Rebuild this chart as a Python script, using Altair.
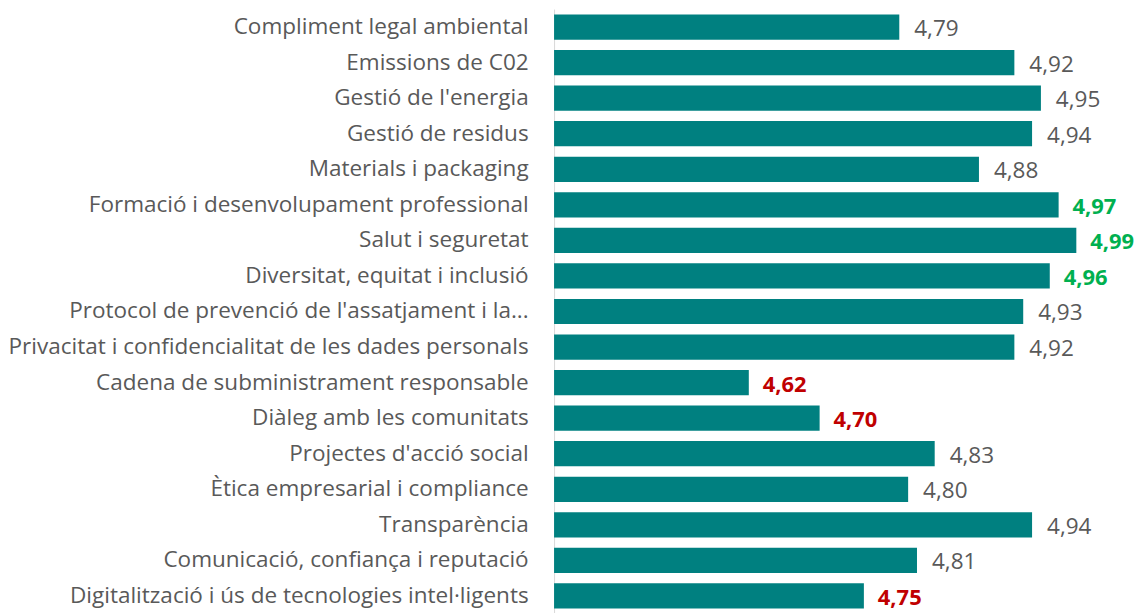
import altair as alt
import pandas as pd

categories = [
    "Compliment legal ambiental",
    "Emissions de C02\u00a0",
    "Gestió de l'energia",
    "Gestió de residus",
    "Materials i packaging",
    "Formació i desenvolupament professional",
    "Salut i seguretat",
    "Diversitat, equitat i inclusió",
    "Protocol de prevenció de l'assatjament i la...",
    "Privacitat i confidencialitat de les dades personals",
    "Cadena de subministrament responsable",
    "Diàleg amb les comunitats",
    "Projectes d'acció social",
    "Ètica empresarial i compliance",
    "Transparència",
    "Comunicació, confiança i reputació",
    "Digitalització i ús de tecnologies intel·ligents",
]
values = [4.79, 4.92, 4.95, 4.94, 4.88, 4.97, 4.99, 4.96, 4.93, 4.92,
          4.62, 4.70, 4.83, 4.80, 4.94, 4.81, 4.75]

df = pd.DataFrame({"cat": categories, "val": values})
df["label"] = df["val"].map(lambda v: f"{v:.2f}".replace(".", ","))
ranks_desc = df["val"].rank(method="first", ascending=False)
ranks_asc = df["val"].rank(method="first", ascending=True)
df["grp"] = "normal"
df.loc[ranks_desc <= 3, "grp"] = "top"
df.loc[ranks_asc <= 3, "grp"] = "bottom"

FONT = "Open Sans"

y_enc = alt.Y(
    "cat:N",
    sort=categories,
    title=None,
    scale=alt.Scale(paddingInner=0.29, paddingOuter=0.15),
    axis=alt.Axis(
        labelFont=FONT,
        labelFontSize=22.6,
        labelColor="#595959",
        labelPadding=26,
        labelLimit=0,
        ticks=False,
        domainColor="#d9d9d9",
        domainWidth=1,
        grid=False,
    ),
)

x_enc = alt.X(
    "val:Q",
    title=None,
    scale=alt.Scale(domain=[4.4, 5.0], zero=False, nice=False),
    axis=None,
)

color_enc = alt.Color(
    "grp:N",
    scale=alt.Scale(domain=["normal", "top", "bottom"],
                    range=["#595959", "#00B050", "#C00000"]),
    legend=None,
)

base = alt.Chart(df)

bars = base.mark_bar(color="#008080", clip=True).encode(x=x_enc, y=y_enc)

text_normal = base.transform_filter(alt.datum.grp == "normal").mark_text(
    align="left", baseline="middle", dx=15, dy=2, font=FONT, fontSize=22.6
).encode(x=x_enc, y=alt.Y("cat:N", sort=categories), text="label:N", color=color_enc)

text_bold = base.transform_filter(alt.datum.grp != "normal").mark_text(
    align="left", baseline="middle", dx=14, dy=2, font=FONT, fontSize=22, fontWeight="bold"
).encode(x=x_enc, y=alt.Y("cat:N", sort=categories), text="label:N", color=color_enc)

chart = (
    alt.layer(bars, text_normal, text_bold)
    .properties(
        width=533,
        height=607,
        background="white",
        autosize=alt.AutoSizeParams(type="none"),
        padding={"left": 548, "top": 0, "right": 51, "bottom": 0},
    )
    .configure_view(strokeWidth=0, stroke="transparent")
)

chart.save("out.html", embed_options={"renderer": "svg", "actions": False})
